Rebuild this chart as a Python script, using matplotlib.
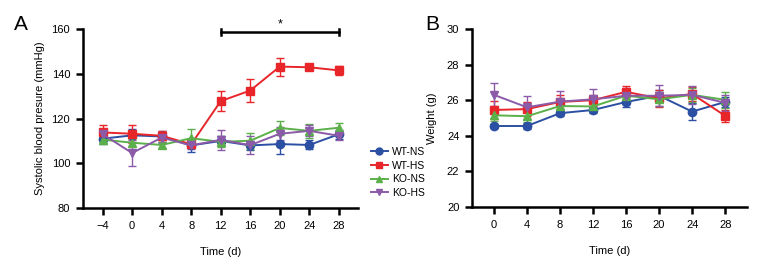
import matplotlib.pyplot as plt
from matplotlib.lines import Line2D

plt.rcParams['font.family'] = ['Liberation Sans', 'DejaVu Sans']

groups = ['WT-NS', 'WT-HS', 'KO-NS', 'KO-HS']
colors = ['#2b4fa2', '#e8262a', '#5bb04a', '#8b5aa8']
markers = ['o', 's', '^', 'v']

# panel A: systolic blood pressure
days_a = [-4, 0, 4, 8, 12, 16, 20, 24, 28]
bp_mean = {
    'WT-NS': [111, 112.5, 112, 108, 110, 108, 108.6, 108.2, 113],
    'WT-HS': [113.8, 113.2, 112.3, 108.5, 127.8, 132.5, 143.2, 142.9, 141.5],
    'KO-NS': [110.6, 109.2, 108.2, 111.2, 109.6, 110.1, 115.8, 114.5, 115.9],
    'KO-HS': [113, 104.6, 111.5, 108, 110.5, 108.1, 113.2, 114.5, 112.3],
}
bp_err = {
    'WT-NS': [2.5, 3, 2.5, 3, 2, 2, 4.5, 2, 2],
    'WT-HS': [3.5, 4, 2, 1.5, 4.5, 5, 4, 1, 2],
    'KO-NS': [1.5, 1.5, 1.5, 4, 2.5, 3.5, 3, 3, 2],
    'KO-HS': [2.5, 6, 2.5, 1.5, 4.5, 4, 3, 2.5, 2],
}

# panel B: body weight
days_b = [0, 4, 8, 12, 16, 20, 24, 28]
wt_mean = {
    'WT-NS': [24.55, 24.55, 25.27, 25.45, 25.9, 26.25, 25.36, 25.9],
    'WT-HS': [25.45, 25.5, 25.9, 26.0, 26.47, 26.1, 26.35, 25.12],
    'KO-NS': [25.15, 25.1, 25.67, 25.65, 26.25, 26.05, 26.3, 26.02],
    'KO-HS': [26.3, 25.6, 25.92, 26.05, 26.25, 26.25, 26.3, 25.85],
}
wt_err = {
    'WT-NS': [0.1, 0.15, 0.15, 0.15, 0.3, 0.3, 0.5, 0.3],
    'WT-HS': [0.5, 0.4, 0.4, 0.3, 0.3, 0.5, 0.4, 0.35],
    'KO-NS': [0.3, 0.3, 0.3, 0.3, 0.3, 0.4, 0.4, 0.45],
    'KO-HS': [0.65, 0.65, 0.6, 0.6, 0.45, 0.6, 0.5, 0.45],
}

fig = plt.figure(figsize=(7.8, 2.76), dpi=100)
ax1 = fig.add_axes([0.106, 0.246, 0.353, 0.649])
ax2 = fig.add_axes([0.605, 0.25, 0.353, 0.645])


def draw(ax, x, means, errs):
    for g, c, m in zip(groups, colors, markers):
        ax.errorbar(x, means[g], yerr=errs[g], color=c, marker=m, markersize=6,
                    linewidth=1.4, ecolor=c, elinewidth=1, capsize=3, capthick=1,
                    label=g)
    for s in ['top', 'right']:
        ax.spines[s].set_visible(False)
    for s in ['left', 'bottom']:
        ax.spines[s].set_linewidth(1.8)
    ax.tick_params(width=1.8, length=5, labelsize=8, pad=4)
    ax.set_xlabel('Time (d)', fontsize=8, labelpad=12)


draw(ax1, days_a, bp_mean, bp_err)
ax1.set_xlim(-6.7, 30.6)
ax1.set_ylim(80, 160)
ax1.set_xticks(days_a)
ax1.set_xticklabels(['\u22124'] + [str(d) for d in days_a[1:]])
ax1.set_yticks([80, 100, 120, 140, 160])
ax1.set_ylabel('Systolic blood presure (mmHg)', fontsize=8, labelpad=5)
ax1.plot([12, 28], [158.6, 158.6], color='black', lw=1.8, clip_on=False)
ax1.plot([12, 12], [157.2, 160], color='black', lw=1.8, clip_on=False)
ax1.plot([28, 28], [157.2, 160], color='black', lw=1.8, clip_on=False)
ax1.text(20, 159.5, '*', ha='center', va='bottom', fontsize=9)
fig.text(0.018, 0.89, 'A', fontsize=15)

draw(ax2, days_b, wt_mean, wt_err)
ax2.set_xlim(-2.67, 30.67)
ax2.set_ylim(20, 30)
ax2.set_xticks(days_b)
ax2.set_yticks([20, 22, 24, 26, 28, 30])
ax2.set_ylabel('Weight (g)', fontsize=8, labelpad=7)
fig.text(0.545, 0.89, 'B', fontsize=15)

handles = [Line2D([], [], color=c, marker=m, markersize=5, lw=1.4)
           for c, m in zip(colors, markers)]
fig.legend(handles, groups, loc='center left', bbox_to_anchor=(0.475, 0.375),
           frameon=False, fontsize=7.5, handlelength=1.7, handletextpad=0.4,
           labelspacing=0.35, borderaxespad=0, borderpad=0)

fig.savefig('out.png', dpi=100)
